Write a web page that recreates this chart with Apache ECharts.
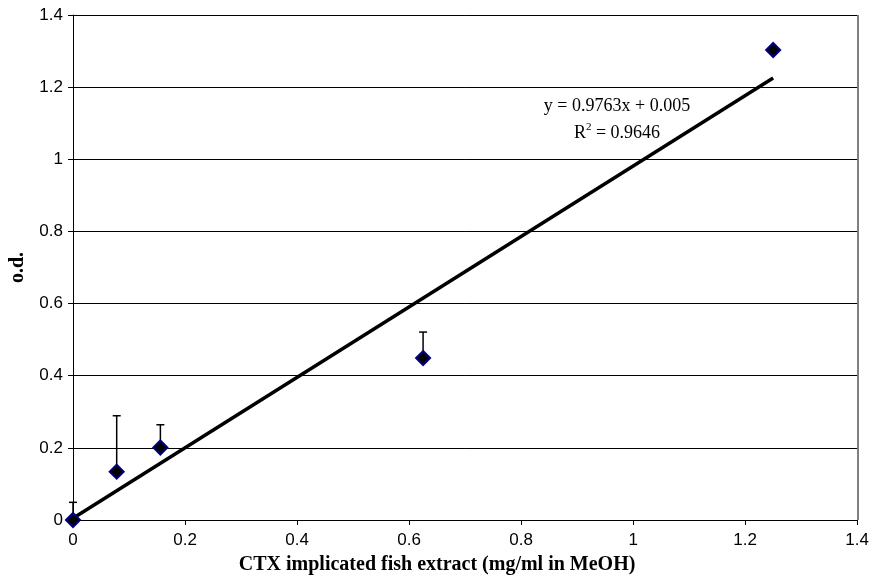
<!DOCTYPE html>
<html><head><meta charset="utf-8">
<script src="https://cdn.jsdelivr.net/npm/echarts@6/dist/echarts.min.js"></script>
<style>html,body{margin:0;padding:0;background:#fff}#c{width:872px;height:585px}</style>
</head><body><div id="c"></div>
<script>
const concentrations = [0, 0.078, 0.156, 0.625, 1.25];
const odValues = [0, 0.134, 0.201, 0.449, 1.303];
const errorTops = [0.049, 0.289, 0.264, 0.521, 1.303];
const slope = 0.9763, intercept = 0.005;
const trendX = [0, 1.25];
const xTicks = [0, 0.2, 0.4, 0.6, 0.8, 1, 1.2, 1.4];
const yTicks = [0, 0.2, 0.4, 0.6, 0.8, 1, 1.2, 1.4];

const chart = echarts.init(document.getElementById('c'));
const points = concentrations.map((x, i) => [x, odValues[i]]);
const errData = concentrations.map((x, i) => [x, odValues[i], errorTops[i]]);
const trend = trendX.map(x => [x, slope * x + intercept]);

chart.setOption({
  animation: false,
  grid: {left: 72, right: 14, top: 15, bottom: 65},
  xAxis: {
    type: 'value', min: 0, max: 1.4, interval: 0.2,
    name: 'CTX implicated fish extract (mg/ml in MeOH)',
    nameLocation: 'middle', nameGap: 35,
    nameTextStyle: {fontFamily: 'Liberation Serif', fontWeight: 'bold', fontSize: 20, color: '#000', padding: [0, 56, 0, 0]},
    axisLine: {lineStyle: {color: '#000', width: 1}},
    axisTick: {show: true, length: 5, lineStyle: {color: '#000'}},
    axisLabel: {fontFamily: 'Liberation Sans', fontSize: 17, color: '#000', margin: 12,
      formatter: v => String(Math.round(v * 10) / 10)},
    splitLine: {show: false}
  },
  yAxis: {
    type: 'value', min: 0, max: 1.4, interval: 0.2,
    name: 'o.d.', nameLocation: 'middle', nameGap: 45, nameRotate: 90,
    nameTextStyle: {fontFamily: 'Liberation Serif', fontWeight: 'bold', fontSize: 20, color: '#000'},
    axisLine: {lineStyle: {color: '#000', width: 1}},
    axisTick: {show: true, length: 5, lineStyle: {color: '#000'}},
    axisLabel: {fontFamily: 'Liberation Sans', fontSize: 17, color: '#000', margin: 10,
      formatter: v => String(Math.round(v * 10) / 10)},
    splitLine: {show: true, lineStyle: {color: '#000', width: 1}}
  },
  graphic: [
    {type: 'line', shape: {x1: 858, y1: 15, x2: 858, y2: 520}, style: {stroke: '#000', lineWidth: 1}},
    {type: 'text', x: 617, y: 106, style: {text: 'y = 0.9763x + 0.005', font: '18px "Liberation Serif"', fill: '#000', align: 'center', verticalAlign: 'middle'}},
    {type: 'text', x: 617, y: 132, style: {
      text: '{n|R}{s|2}{n| = 0.9646}',
      align: 'center', verticalAlign: 'middle',
      rich: {
        n: {font: '18px "Liberation Serif"', fill: '#000', verticalAlign: 'bottom'},
        s: {font: '11px "Liberation Serif"', fill: '#000', verticalAlign: 'top', padding: [0, 0, 9, 0]}
      }
    }}
  ],
  series: [
    {
      type: 'custom', z: 3,
      renderItem: function (params, api) {
        const p0 = api.coord([api.value(0), api.value(1)]);
        const p1 = api.coord([api.value(0), api.value(2)]);
        if (Math.abs(p0[1] - p1[1]) < 1) return null;
        return {type: 'group', children: [
          {type: 'line', shape: {x1: p0[0], y1: p0[1], x2: p1[0], y2: p1[1]}, style: {stroke: '#000', lineWidth: 1.5}},
          {type: 'line', shape: {x1: p1[0] - 4, y1: p1[1], x2: p1[0] + 4, y2: p1[1]}, style: {stroke: '#000', lineWidth: 1.5}}
        ]};
      },
      data: errData
    },
    {
      type: 'line', data: trend, showSymbol: false, symbol: 'none', z: 4,
      lineStyle: {color: '#000', width: 3.5}
    },
    {
      type: 'scatter', data: points, symbol: 'diamond', symbolSize: 14, z: 5,
      itemStyle: {color: '#000', borderColor: '#000080', borderWidth: 2, opacity: 1}
    }
  ]
});
</script></body></html>
